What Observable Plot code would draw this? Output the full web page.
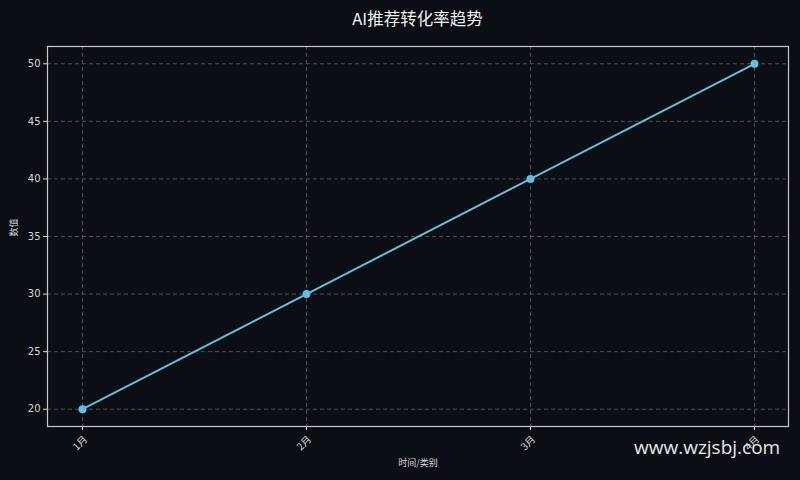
<!DOCTYPE html>
<html>
<head>
<meta charset="utf-8">
<script src="https://cdn.jsdelivr.net/npm/d3@7"></script>
<script src="https://cdn.jsdelivr.net/npm/@observablehq/plot@0.6"></script>
<style>
  html, body { margin: 0; padding: 0; background: #0b0e14; }
  #wrap { position: relative; width: 800px; height: 480px; background: #0b0e14; font-family: "Noto Sans CJK SC", "DejaVu Sans", sans-serif; }
  #title { position: absolute; left: 47px; width: 741px; top: 6px; text-align: center; color: #f0f0f0; font-size: 16.5px; }
  #wm { position: absolute; left: 634px; top: 434px; color: #e6e6e6; font-size: 19px; font-family: "Open Sans", "DejaVu Sans", sans-serif; }
  #chart { position: absolute; left: 0; top: 0; }
</style>
</head>
<body>
<div id="wrap">
  <div id="chart"></div>
  <div id="title">AI推荐转化率趋势</div>
  <div id="wm">www.wzjsbj.com</div>
</div>
<script>
const categories = ["1月", "2月", "3月", "4月"];
const values = [20, 30, 40, 50];
const yTicks = [20, 25, 30, 35, 40, 45, 50];
const title = "AI推荐转化率趋势";
const xLabel = "时间/类别";
const yLabel = "数值";

const data = categories.map((c, i) => ({ c, v: values[i] }));
const fg = "#d8d8d8";
const lineColor = "#66bde0";
const cjk = "\"Noto Sans CJK SC\", sans-serif";

const chart = Plot.plot({
  width: 800,
  height: 480,
  marginLeft: 47,
  marginRight: 12,
  marginTop: 46,
  marginBottom: 54,
  style: { background: "#0b0e14", color: fg, fontSize: "10px", fontFamily: "\"DejaVu Sans\", \"Noto Sans CJK SC\", sans-serif" },
  x: { type: "point", domain: categories, padding: 0.15, label: null },
  y: { domain: [18.5, 51.5], label: null },
  marks: [
    Plot.gridY(yTicks, { stroke: "#5e5e5e", strokeOpacity: 1, strokeDasharray: "4,3", strokeWidth: 0.8 }),
    Plot.gridX(categories, { stroke: "#5e5e5e", strokeOpacity: 1, strokeDasharray: "4,3", strokeWidth: 0.8 }),
    Plot.axisY(yTicks, { tickSize: 4, tickPadding: 3, stroke: fg, fill: fg, fontSize: 10, label: null }),
    Plot.axisX(categories, { tickSize: 4, stroke: fg, text: null, label: null }),
    Plot.text(categories, { x: d => d, frameAnchor: "bottom", dy: 19, rotate: -45, textAnchor: "middle", fill: fg, fontSize: 10, fontFamily: cjk }),
    Plot.frame({ stroke: "#c8c8c8", strokeWidth: 1.2 }),
    Plot.line(data, { x: "c", y: "v", stroke: lineColor, strokeWidth: 2 }),
    Plot.dot(data, { x: "c", y: "v", fill: lineColor, r: 4 }),
    Plot.text([xLabel], { frameAnchor: "bottom", dy: 39, fill: fg, fontSize: 9, fontFamily: cjk }),
    Plot.text([yLabel], { frameAnchor: "left", dx: -33, rotate: -90, fill: fg, fontSize: 9, fontFamily: cjk })
  ]
});
document.getElementById("chart").appendChild(chart);
</script>
</body>
</html>
